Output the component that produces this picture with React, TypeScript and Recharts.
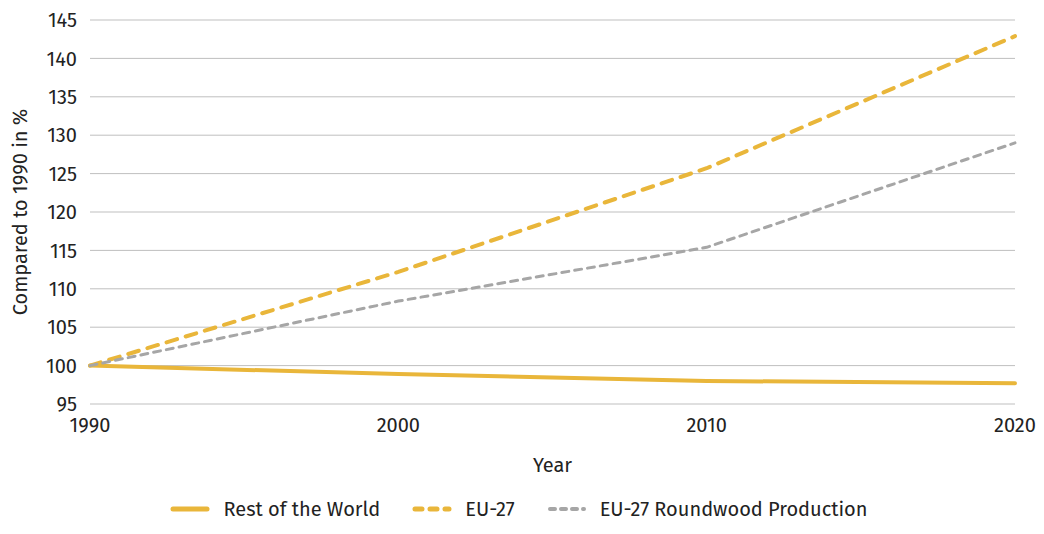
import { CartesianGrid, Legend, Line, LineChart, XAxis, YAxis } from 'recharts'

const years = [1990, 2000, 2010, 2020]
const restOfWorld = [100, 98.9, 98.0, 97.7]
const eu27 = [100, 112.2, 125.7, 142.9]
const roundwood = [100, 108.4, 115.4, 129.0]
const yTicks = [95, 100, 105, 110, 115, 120, 125, 130, 135, 140, 145]

const GOLD = '#E9B63A'
const GREY = '#A6A6A6'
const INK = '#222'
const FONT = '"Fira Sans", "Noto Sans", "Open Sans", sans-serif'

const chartData = years.map((year, i) => ({
  year,
  row: restOfWorld[i],
  eu: eu27[i],
  rw: roundwood[i],
}))

const series = [
  { key: 'row', name: 'Rest of the World', color: GOLD, width: 4, dash: undefined as string | undefined, icon: undefined as string | undefined },
  { key: 'eu', name: 'EU-27', color: GOLD, width: 4, dash: '11 9', icon: '7 8' },
  { key: 'rw', name: 'EU-27 Roundwood Production', color: GREY, width: 3, dash: '7 6', icon: '5 6' },
]

function LegendContent() {
  return (
    <div
      style={{
        height: 50,
        display: 'flex',
        alignItems: 'center',
        justifyContent: 'center',
        fontFamily: FONT,
        fontSize: 20,
        color: INK,
      }}
    >
      {series.map((s, i) => (
        <div
          key={s.key}
          style={{ display: 'flex', alignItems: 'center', marginLeft: i === 0 ? 0 : 32 }}
        >
          <svg width={40} height={10} style={{ marginRight: 13 }}>
            <line
              x1={3}
              y1={5}
              x2={37}
              y2={5}
              stroke={s.color}
              strokeWidth={s.width + 1}
              strokeLinecap="round"
              strokeDasharray={s.icon}
            />
          </svg>
          <span>{s.name}</span>
        </div>
      ))}
    </div>
  )
}

export default function App() {
  return (
    <LineChart
      width={1036}
      height={526}
      data={chartData}
      margin={{ top: 12, right: 29, left: 0, bottom: 0 }}
      style={{ fontFamily: FONT }}
    >
      <CartesianGrid stroke="#BFBFBF" vertical={false} />
      <XAxis
        dataKey="year"
        type="number"
        domain={[1990, 2020]}
        ticks={years}
        axisLine={false}
        tickLine={false}
        tickMargin={8}
        height={80}
        tick={{ fill: INK, fontSize: 20 }}
        label={{ value: 'Year', position: 'insideBottom', offset: 12, fill: INK, fontSize: 20 }}
      />
      <YAxis
        type="number"
        domain={[95, 145]}
        ticks={yTicks}
        axisLine={false}
        tickLine={false}
        tickMargin={7}
        width={82}
        tick={{ fill: INK, fontSize: 20 }}
        label={{
          value: 'Compared to 1990 in %',
          angle: -90,
          position: 'insideLeft',
          offset: 12,
          fill: INK,
          fontSize: 20,
          style: { textAnchor: 'middle' },
        }}
      />
      <Legend
        verticalAlign="bottom"
        height={50}
        wrapperStyle={{ left: 0, width: 1022 }}
        content={<LegendContent />}
      />
      {series.map((s) => (
        <Line
          key={s.key}
          type="linear"
          dataKey={s.key}
          name={s.name}
          stroke={s.color}
          strokeWidth={s.width}
          strokeDasharray={s.dash}
          strokeLinecap="round"
          dot={false}
          activeDot={false}
          isAnimationActive={false}
        />
      ))}
    </LineChart>
  )
}
